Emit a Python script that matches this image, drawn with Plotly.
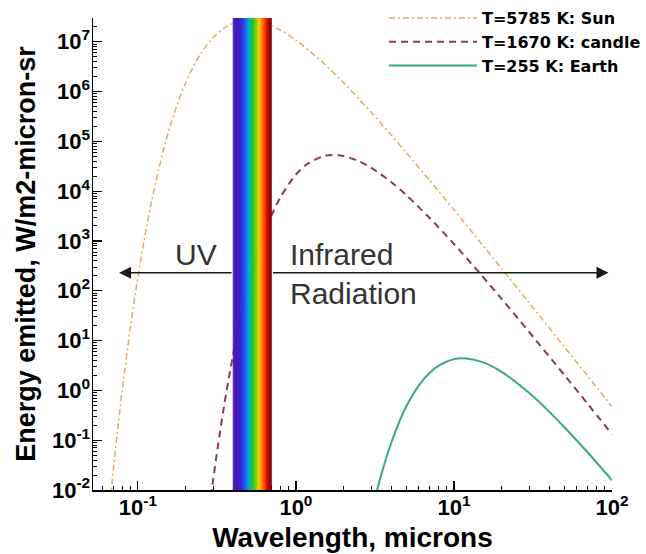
import math
import plotly.graph_objects as go
from plotly.colors import sample_colorscale

# ---------------- data ----------------
WL_SUN = [0.067, 0.07, 0.075, 0.08, 0.09, 0.1, 0.11, 0.12, 0.13, 0.15, 0.17, 0.2, 0.25,
          0.3, 0.35, 0.4, 0.45, 0.5, 0.6, 0.7, 0.8, 1.0, 1.5, 2, 3, 4, 5, 7, 10, 15,
          20, 30, 50, 70, 100]
E_SUN = [0.0067, 0.026, 0.20, 1.14, 20.1, 188, 1120, 4770, 1.58e4, 9.87e4, 3.71e5, 1.48e6, 5.83e6,
         1.23e7, 1.86e7, 2.32e7, 2.58e7, 2.65e7, 2.46e7, 2.09e7, 1.70e7, 1.08e7, 3.69e6, 1.51e6, 3.80e5,
         1.35e5, 5.91e4, 1.66e4, 4220, 869, 281, 56.7, 7.47, 1.96, 0.473]

WL_CANDLE = [0.29, 0.3, 0.32, 0.35, 0.4, 0.45, 0.5, 0.6, 0.7, 0.8, 1.0, 1.2, 1.5, 1.7, 2,
             2.5, 3, 4, 5, 7, 10, 15, 20, 30, 50, 70, 100]
E_CANDLE = [0.0073, 0.0165, 0.072, 0.46, 5.15, 31.2, 125, 889, 3200, 7650, 2.16e4, 3.65e4,
            5.04e4, 5.32e4, 5.08e4, 4.01e4, 2.94e4, 1.53e4, 8280, 2920, 871, 202, 69.1, 14.7,
            2.03, 0.541, 0.132]

WL_EARTH = [3.2, 3.3, 3.5, 4, 4.5, 5, 6, 7, 8, 10, 12, 15, 20, 30, 40, 50, 70, 100]
E_EARTH = [0.0078, 0.0114, 0.0226, 0.087, 0.231, 0.479, 1.26, 2.24, 3.15, 4.24, 4.38, 3.73,
           2.36, 0.882, 0.375, 0.182, 0.0572, 0.0157]

SERIES_NAMES = ["T=5785 K: Sun", "T=1670 K: candle", "T=255 K: Earth"]

VISIBLE_BAND = [0.4, 0.7]        # microns
BAND_TOP = 3.3e7
ARROW_Y = 230
UV_ARROW_END = 0.076
IR_ARROW_END = 95

X_TICKS = [0.1, 1, 10, 100]
X_TICKTEXT = ["10<sup>-1</sup>", "10<sup>0</sup>", "10<sup>1</sup>", "10<sup>2</sup>"]
Y_TICKS = [1e-2, 1e-1, 1, 10, 1e2, 1e3, 1e4, 1e5, 1e6, 1e7]
Y_TICKTEXT = ["10<sup>-2</sup>", "10<sup>-1</sup>", "10<sup>0</sup>", "10<sup>1</sup>",
              "10<sup>2</sup>", "10<sup>3</sup>", "10<sup>4</sup>", "10<sup>5</sup>",
              "10<sup>6</sup>", "10<sup>7</sup>"]

X_RANGE = [0.052, 100]
Y_RANGE = [0.01, 3.0e7]

# ---------------- figure ----------------
FONT = "Arial, Liberation Sans, Helvetica, sans-serif"
LEGEND_FONT = "DejaVu Sans, Arial, sans-serif"

fig = go.Figure()
fig.add_trace(go.Scatter(x=WL_SUN, y=E_SUN, mode="lines", name=SERIES_NAMES[0],
                         line=dict(color="#E2AC58", width=1.5, dash="6px,3px,2px,3px",
                                   shape="spline", smoothing=0.8)))
fig.add_trace(go.Scatter(x=WL_CANDLE, y=E_CANDLE, mode="lines", name=SERIES_NAMES[1],
                         line=dict(color="#8C3A50", width=2, dash="7px,5px",
                                   shape="spline", smoothing=0.8)))
fig.add_trace(go.Scatter(x=WL_EARTH, y=E_EARTH, mode="lines", name=SERIES_NAMES[2],
                         line=dict(color="#3AA68C", width=2, shape="spline", smoothing=0.8)))

# rainbow band for visible light
RAINBOW = [[0.0, "#5a2aa0"], [0.1, "#4010b8"], [0.25, "#2a30e0"], [0.35, "#1070f0"],
           [0.42, "#00b0d0"], [0.5, "#10c040"], [0.6, "#70d000"], [0.68, "#f0d000"],
           [0.75, "#ff9000"], [0.83, "#ff4000"], [0.9, "#d80000"], [1.0, "#7a0000"]]
n = 48
lo, hi = math.log10(VISIBLE_BAND[0]), math.log10(VISIBLE_BAND[1])
cols = sample_colorscale(RAINBOW, [(i + 0.5) / n for i in range(n)])
shapes = []
for i, c in enumerate(cols):
    x0 = 10 ** (lo + (hi - lo) * i / n)
    x1 = 10 ** (lo + (hi - lo) * (i + 1) / n)
    shapes.append(dict(type="rect", xref="x", yref="y", x0=x0, x1=x1,
                       y0=Y_RANGE[0], y1=BAND_TOP, fillcolor=c,
                       line=dict(color=c, width=0.6), layer="above"))

annotations = [
    dict(x=math.log10(UV_ARROW_END), y=math.log10(ARROW_Y), ax=math.log10(VISIBLE_BAND[0]),
         ay=math.log10(ARROW_Y), xref="x", yref="y", axref="x", ayref="y", text="",
         showarrow=True, arrowhead=2, arrowsize=1.5, arrowwidth=1.6, arrowcolor="#1a1a1a"),
    dict(x=math.log10(IR_ARROW_END), y=math.log10(ARROW_Y), ax=math.log10(VISIBLE_BAND[1]),
         ay=math.log10(ARROW_Y), xref="x", yref="y", axref="x", ayref="y", text="",
         showarrow=True, arrowhead=2, arrowsize=1.5, arrowwidth=1.6, arrowcolor="#1a1a1a"),
    dict(x=0.2428, y=0.5, xref="paper", yref="paper", text="UV", showarrow=False,
         xanchor="right", yanchor="middle", font=dict(family=FONT, size=30, color="#333333")),
    dict(x=0.3757, y=0.5, xref="paper", yref="paper", text="Infrared", showarrow=False,
         xanchor="left", yanchor="middle", font=dict(family=FONT, size=30, color="#333333")),
    dict(x=0.3757, y=0.4153, xref="paper", yref="paper", text="Radiation", showarrow=False,
         xanchor="left", yanchor="middle", font=dict(family=FONT, size=30, color="#333333")),
]

axis_common = dict(
    type="log", automargin=False, showgrid=False, zeroline=False, showline=True,
    linecolor="black", linewidth=1.5, mirror=False, ticks="inside", ticklen=9,
    tickwidth=1.2, tickcolor="black", tickmode="array",
    tickfont=dict(family=FONT, size=22, color="black", weight="bold"),
    minor=dict(ticks="inside", ticklen=4, tickwidth=1, tickcolor="black", dtick="D1",
               showgrid=False),
)

fig.update_layout(
    template="none",
    width=646, height=554,
    margin=dict(l=93, r=34, t=18, b=64, autoexpand=False),
    paper_bgcolor="white", plot_bgcolor="white",
    showlegend=True,
    legend=dict(x=0.5607, y=1.036, xanchor="left", yanchor="top", itemwidth=88,
                bgcolor="rgba(0,0,0,0)", borderwidth=0, tracegroupgap=0,
                font=dict(family=LEGEND_FONT, size=16, color="black", weight="bold")),
    xaxis=dict(axis_common, range=[math.log10(X_RANGE[0]), math.log10(X_RANGE[1])],
               tickvals=X_TICKS, ticktext=X_TICKTEXT, ticklabelstandoff=-3,
               title=dict(text="Wavelength, microns", standoff=8,
                          font=dict(family=FONT, size=28, color="black", weight="bold"))),
    yaxis=dict(axis_common, range=[math.log10(Y_RANGE[0]), math.log10(Y_RANGE[1])],
               tickvals=Y_TICKS, ticktext=Y_TICKTEXT, ticklabelstandoff=-3,
               title=dict(text="Energy emitted, W/m2-micron-sr", standoff=8,
                          font=dict(family=FONT, size=27, color="black", weight="bold"))),
    shapes=shapes,
    annotations=annotations,
)

fig.write_html("out.html", config={"staticPlot": True, "displayModeBar": False},
               post_script="document.body.style.margin='0px';")
